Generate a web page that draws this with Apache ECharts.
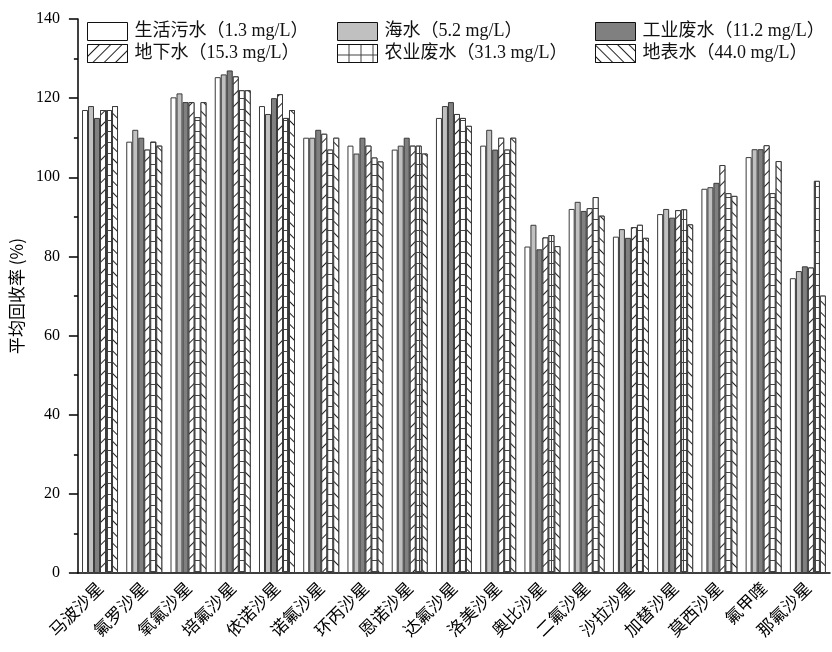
<!DOCTYPE html>
<html>
<head>
<meta charset="utf-8">
<script src="https://cdn.jsdelivr.net/npm/echarts@6/dist/echarts.min.js"></script>
<style>html,body{margin:0;padding:0;background:#fff}#c{width:832px;height:652px}</style>
</head>
<body>
<div id="c"></div>
<script>
const categories = ['马波沙星','氟罗沙星','氧氟沙星','培氟沙星','依诺沙星','诺氟沙星','环丙沙星','恩诺沙星','达氟沙星','洛美沙星','奥比沙星','二氟沙星','沙拉沙星','加替沙星','莫西沙星','氟甲喹','那氟沙星'];
const seriesNames = ['生活污水（1.3 mg/L）','海水（5.2 mg/L）','工业废水（11.2 mg/L）','地下水（15.3 mg/L）','农业废水（31.3 mg/L）','地表水（44.0 mg/L）'];
const domestic = [117, 109, 120.2, 125.3, 118, 110, 108, 107, 115, 108, 82.5, 92, 85, 90.7, 97.1, 105.1, 74.5];
const seawater = [118, 112, 121.2, 126, 116, 110, 106, 108, 118, 112, 88, 93.8, 86.9, 92, 97.5, 107.1, 76.3];
const industrial = [115, 110, 119, 127, 120, 112, 110, 110, 119, 107, 81.8, 91.5, 84.7, 89.8, 98.6, 107.1, 77.5];
const groundwater = [117, 107, 119, 125.5, 121, 111, 108, 108, 116, 110, 84.8, 92.2, 87.4, 91.7, 103.1, 108.1, 77.2];
const agricultural = [117, 109, 115.2, 122, 115, 107, 105, 108, 115, 107, 85.4, 95, 88, 91.9, 96, 96, 99.1];
const surface = [118, 108, 119, 122, 117, 110, 104, 106, 113, 110, 82.6, 90.3, 84.7, 88.1, 95.3, 104.1, 70.1];
const yTicks = [0, 20, 40, 60, 80, 100, 120, 140];

const chart = echarts.init(document.getElementById('c'));
const border = '#3a3a3a';
const styles = [
  {color: '#ffffff', borderColor: border, borderWidth: 1},
  {color: '#c0c0c0', borderColor: border, borderWidth: 1},
  {color: '#808080', borderColor: border, borderWidth: 1},
  {color: '#ffffff', borderColor: border, borderWidth: 1,
   decal: {symbol: 'rect', symbolSize: 1, dashArrayX: [1, 0], dashArrayY: [1, 7], rotation: -Math.PI / 4, color: '#222', backgroundColor: '#fff'}},
  {color: '#ffffff', borderColor: border, borderWidth: 1,
   decal: {symbol: 'rect', symbolSize: 1, dashArrayX: [11, 1], dashArrayY: [10, 1], rotation: 0, color: '#fff', backgroundColor: '#444'}},
  {color: '#ffffff', borderColor: border, borderWidth: 1,
   decal: {symbol: 'rect', symbolSize: 1, dashArrayX: [1, 0], dashArrayY: [1, 7], rotation: Math.PI / 4, color: '#222', backgroundColor: '#fff'}}
];
const datas = [domestic, seawater, industrial, groundwater, agricultural, surface];
const series = datas.map((d, i) => ({
  name: seriesNames[i], type: 'bar', xAxisIndex: 0, yAxisIndex: 0,
  data: d, barWidth: 6, barGap: '0%', itemStyle: styles[i]
}));
const legendText = {fontSize: 18, color: '#111', fontFamily: "'Liberation Serif','Noto Sans CJK SC'", padding: [0, 0, 0, 2]};
const legendBase = {orient: 'vertical', top: 22, padding: 0, itemWidth: 40, itemHeight: 18, itemGap: 3, textStyle: legendText, icon: 'rect', itemStyle: {borderColor: '#111', borderWidth: 1}};
chart.setOption({
  animation: false,
  backgroundColor: '#fff',
  legend: [
    Object.assign({}, legendBase, {left: 87, data: [seriesNames[0], seriesNames[3]]}),
    Object.assign({}, legendBase, {left: 337, data: [seriesNames[1], seriesNames[4]]}),
    Object.assign({}, legendBase, {left: 595, data: [seriesNames[2], seriesNames[5]]})
  ],
  grid: {left: 74, right: 2, top: 19, bottom: 79, containLabel: false},
  xAxis: [
    {type: 'category', data: categories, boundaryGap: true,
     axisLine: {lineStyle: {color: '#000', width: 1.5}},
     axisTick: {alignWithLabel: true, length: 10, lineStyle: {color: '#000', width: 1.5}},
     axisLabel: {rotate: 45, interval: 0, fontSize: 17, margin: 12, color: '#000', fontFamily: "'Noto Sans CJK SC'"}},
    {type: 'category', data: categories, boundaryGap: true, position: 'bottom',
     axisLine: {show: false},
     axisTick: {length: 5, interval: 0, lineStyle: {color: '#000', width: 1.5}},
     axisLabel: {show: false}}
  ],
  yAxis: {type: 'value', min: 0, max: 140, interval: 20,
    name: '平均回收率 (%)', nameLocation: 'middle', nameGap: 46,
    nameTextStyle: {fontSize: 17, color: '#000', fontFamily: "'Noto Sans CJK SC'"},
    axisLine: {show: true, lineStyle: {color: '#000', width: 1.5}},
    axisTick: {show: true, length: 9, lineStyle: {color: '#000', width: 1.5}},
    minorTick: {show: true, splitNumber: 2, length: 4, lineStyle: {color: '#000', width: 1.5}},
    splitLine: {show: false},
    axisLabel: {fontSize: 16, margin: 18, color: '#000', fontFamily: "'Liberation Serif'",
      customValues: yTicks}
  },
  series: series
});
</script>
</body>
</html>
